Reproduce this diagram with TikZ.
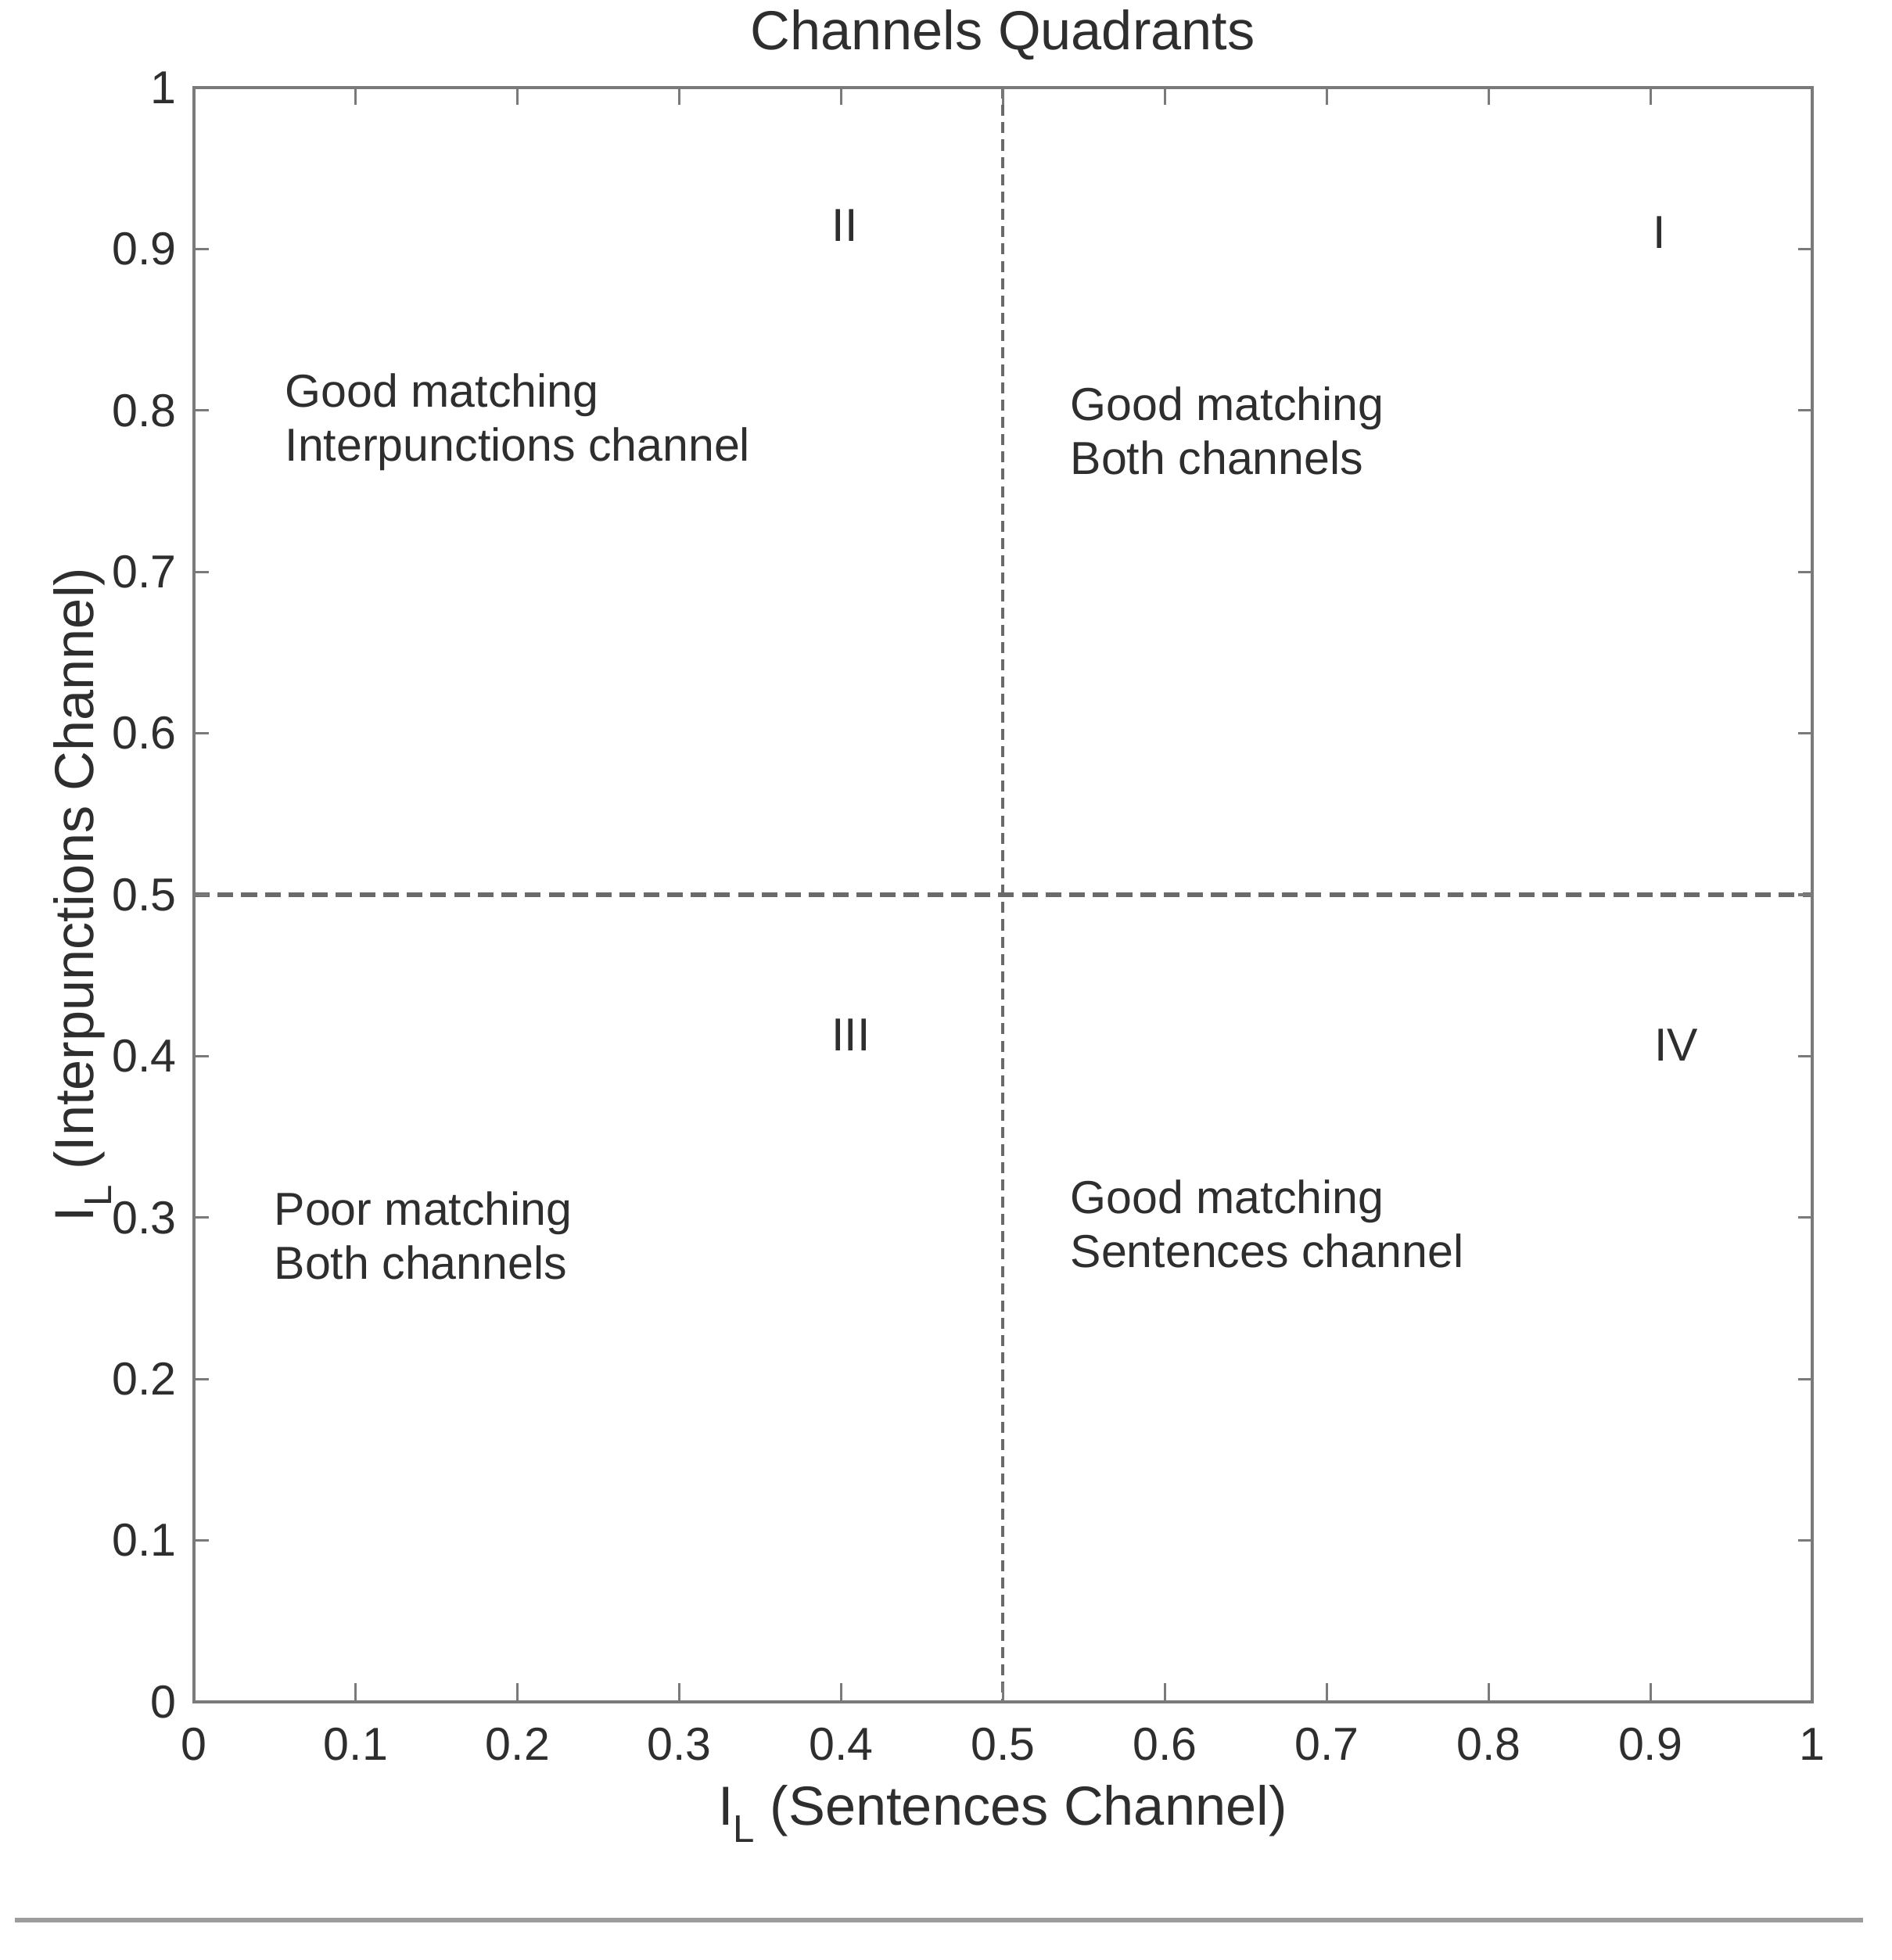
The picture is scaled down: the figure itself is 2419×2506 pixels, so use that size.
\documentclass[tikz,border=0pt]{standalone}
\usepackage{fontspec}
\setmainfont{Liberation Sans}
\definecolor{axisgray}{HTML}{7A7A7A}
\definecolor{txt}{HTML}{2E2E2E}
\definecolor{dashgray}{HTML}{6A6A6A}
\definecolor{rulegray}{HTML}{9C9C9C}
\newcommand{\ILsub}{I\raisebox{-6.5pt}{\fontsize{14}{14}\selectfont L}}
\begin{document}
\begin{tikzpicture}[x=0.01cm,y=-0.01cm,
  ticklab/.style={text=txt,font=\fontsize{16.8}{20}\selectfont,inner sep=0pt},
  annot/.style={text=txt,font=\fontsize{16.8}{19.6}\selectfont,align=left,inner sep=0pt,anchor=west},
  biglab/.style={text=txt,font=\fontsize{20}{24}\selectfont,inner sep=0pt},
  axisline/.style={draw=axisgray,line width=1.4pt},
  tickline/.style={draw=axisgray,line width=0.9pt},
  guideh/.style={draw=dashgray,line width=1.5pt,dash pattern=on 5.7pt off 2.9pt},
  guidev/.style={draw=dashgray,line width=1.2pt,dash pattern=on 4pt off 2.3pt},
  rulestyle/.style={draw=rulegray,line width=1.7pt}]
\useasboundingbox (0,0) rectangle (2419,2506);
\fill[white] (0,0) rectangle (2419,2506);
% guide lines
\coordinate (hL) at (248,1144);
\coordinate (hR) at (2317,1144);
\coordinate (vT) at (1282,112);
\coordinate (vB) at (1282,2176);
\draw[guideh] (hL) -- (hR);
\draw[guidev] (vT) -- (vB);
% axes box
\coordinate (ll) at (248,2176);
\coordinate (ur) at (2317,112);
\draw[axisline] (ll) rectangle (ur);
% ticks
\foreach \i in {1,...,9}{
  \pgfmathsetmacro\xx{248+\i*206.9}
  \pgfmathsetmacro\yy{2176-\i*206.4}
  \draw[tickline] (\xx,2176) -- ++(0,-24);
  \draw[tickline] (\xx,112) -- ++(0,22);
  \draw[tickline] (248,\yy) -- ++(19,0);
  \draw[tickline] (2317,\yy) -- ++(-18,0);
}
% tick labels
\foreach \i/\t in {0/0,1/0.1,2/0.2,3/0.3,4/0.4,5/0.5,6/0.6,7/0.7,8/0.8,9/0.9,10/1}{
  \pgfmathsetmacro\xx{248+\i*206.9}
  \pgfmathsetmacro\yy{2176-\i*206.4}
  \node[ticklab,anchor=base] (xt\i) at (\xx,2250) {\t};
  \node[ticklab,anchor=east] (yt\i) at (226,\yy) {\t};
}
% title and axis labels
\node[biglab,anchor=base] (title) at (1282,64) {Channels Quadrants};
\node[biglab,anchor=base] (xlab) at (1282,2333) {\ILsub{} (Sentences Channel)};
\node[biglab,anchor=base,rotate=90] (ylab) at (120,1144) {\ILsub{} (Interpunctions Channel)};
% quadrant numerals
\node[ticklab] (qII) at (1080,288) {II};
\node[ticklab] (qI) at (2122,297) {I};
\node[ticklab] (qIII) at (1088,1323) {III};
\node[ticklab] (qIV) at (2143,1336) {IV};
% quadrant annotations
\node[annot] (a2) at (364,540) {Good matching\\Interpunctions channel};
\node[annot] (a1) at (1368,551) {Good matching\\Both channels};
\node[annot] (a3) at (350,1580) {Poor matching\\Both channels};
\node[annot] (a4) at (1368,1565) {Good matching\\Sentences channel};
% bottom rule
\coordinate (rL) at (19,2455);
\coordinate (rR) at (2382,2455);
\draw[rulestyle] (rL) -- (rR);
\end{tikzpicture}
\end{document}
